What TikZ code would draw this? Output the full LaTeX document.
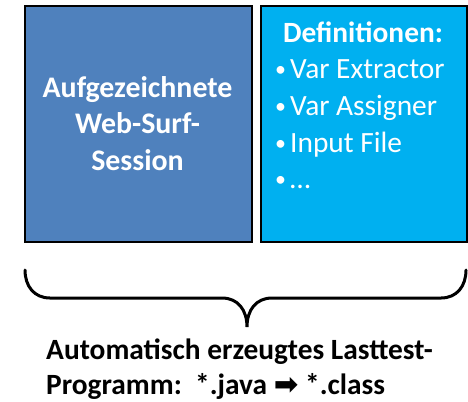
\documentclass[tikz,border=0pt]{standalone}
\usepackage{fontspec}
\setmainfont{Carlito}
\newfontfamily\symfont{DejaVu Sans}
\usetikzlibrary{positioning}
\definecolor{sessionblue}{HTML}{4F81BD}
\definecolor{defcyan}{HTML}{00B0F0}
\newcommand{\defbullet}{\makebox[15bp][l]{\raisebox{1.5bp}{\fontsize{22}{22}\selectfont\textbullet}}}
\tikzset{panel/.style={draw=black,line width=2.2bp,inner sep=0pt,anchor=north west,minimum height=236bp},
         boxtext/.style={text=white,inner sep=0pt,font=\fontsize{29.5}{36}\selectfont},
         brace/.style={line width=3bp,line cap=round}}

\begin{document}
\begin{tikzpicture}[x=1bp,y=-1bp]
    \useasboundingbox (0,0) rectangle (468,401);
    % die beiden Kaesten
    \node[panel,fill=sessionblue,minimum width=227bp] (session) at (24,5) {};
    \node[panel,fill=defcyan,minimum width=206bp] (defs) at (260,5) {};
    \node[boxtext,font=\bfseries\fontsize{30}{36.5}\selectfont,align=center,anchor=base] (sessiontext) at (137.5,170) {Aufgezeichnete\\Web-Surf-\\Session};
    \node[boxtext,font=\bfseries\fontsize{29.5}{36}\selectfont,anchor=base] (deftitle) at (363,42) {Definitionen:};
    \foreach \y/\txt [count=\i] in {78/Var Extractor,115/Var Assigner,152/Input File,188/\dots}
        \node[boxtext,anchor=base west] (item\i) at (275,\y) {\defbullet\txt};
    % geschweifte Klammer
    \coordinate (bl) at (25,270);
    \coordinate (tip) at (247,327);
    \coordinate (br) at (466,270);
    \draw[brace] (bl) .. controls (25,286) and (34,298) .. (50,298) -- (222,298)
        .. controls (238,298) and (247,310) .. (tip)
        .. controls (247,310) and (256,298) .. (272,298) -- (441,298)
        .. controls (457,298) and (466,286) .. (br);
    \node[anchor=base west,align=left,inner sep=0pt,font=\bfseries\fontsize{29.5}{35}\selectfont] (prog) at (46,394)
        {Automatisch erzeugtes Lasttest-\\Programm:~~*.java {\symfont ➡} *.class};
\end{tikzpicture}
\end{document}
